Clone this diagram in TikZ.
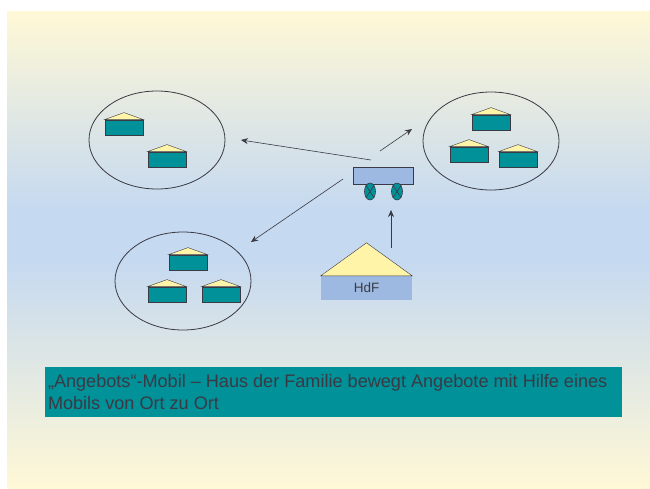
\documentclass[tikz,border=0pt]{standalone}
\usepackage{fontspec}
\setmainfont{Liberation Sans}
\usetikzlibrary{shapes.geometric}
\usetikzlibrary{arrows.meta}
\tikzset{>=Stealth}
\definecolor{teal}{HTML}{009199}
\definecolor{cream}{HTML}{FFF8D6}
\definecolor{skyblue}{HTML}{C5D9F0}
\definecolor{roof}{HTML}{FFF4A8}
\definecolor{periwinkle}{HTML}{9DB9E1}
\definecolor{ink}{HTML}{3A3A44}
\tikzset{
  area/.style={draw=ink,thick,ellipse,minimum width=136pt,minimum height=98pt,inner sep=0pt},
  hbody/.style={draw=ink,thick,fill=teal,minimum width=38pt,minimum height=15pt,inner sep=0pt},
  hroof/.style={draw=ink,thin,fill=roof},
  wheel/.style={draw=ink,semithick,fill=teal,ellipse,minimum width=11pt,minimum height=17pt,inner sep=0pt},
  arrow/.style={->,draw=ink,semithick,>={Stealth[length=7pt,width=6pt]}},
}
\begin{document}
\begin{tikzpicture}[x=1pt,y=-1pt]
\useasboundingbox (0,0) rectangle (650,488);
% background
\shade[top color=cream,bottom color=skyblue] (7,11) rectangle (650,210);
\fill[skyblue] (7,210) rectangle (650,260);
\shade[top color=skyblue,bottom color=cream] (7,260) rectangle (650,488);
% areas
\node[area] (left) at (157,140) {};
\node[area] (right) at (491,141) {};
\node[area] (below) at (183,281) {};
% small houses
\foreach \nam/\hx/\hy in {h1/124/127.5,h2/167/159.5,h3/491/122.5,h4/469/154.5,h5/518/159.5,h6/188/262.5,h7/167/294.5,h8/221/294.5}{
  \node[hbody] (\nam) at (\hx,\hy) {};
  \draw[hroof] (\nam.north west) -- ([yshift=7pt]\nam.north) -- (\nam.north east) -- cycle;
}
% mobil
\node[draw=ink,thick,fill=periwinkle,minimum width=60pt,minimum height=17pt,inner sep=0pt] (cart) at (383,175.5) {};
\node[wheel] (w1) at (370,191.5) {};
\node[wheel] (w2) at (397,191.5) {};
\draw[ink,semithick] (w1.north west) -- (w1.south east);
\draw[ink,semithick] (w1.north east) -- (w1.south west);
\draw[ink,semithick] (w2.north west) -- (w2.south east);
\draw[ink,semithick] (w2.north east) -- (w2.south west);
% HdF
\node[fill=periwinkle,minimum width=91pt,minimum height=24pt,inner sep=0pt,text=ink,font=\fontsize{13.5pt}{15pt}\selectfont] (hdf) at (366.5,288) {HdF};
\draw[hroof] (hdf.north west) -- ([yshift=33pt]hdf.north) -- (hdf.north east) -- cycle;
% arrows
\coordinate (a1) at (371,160);
\coordinate (b1) at (241,140);
\coordinate (a2) at (380,151);
\coordinate (b2) at (412,129);
\coordinate (a3) at (343,179);
\coordinate (b3) at (251,242);
\coordinate (a4) at (391,248);
\coordinate (b4) at (391,210);
\draw[arrow] (a1) -- (b1);
\draw[arrow] (a2) -- (b2);
\draw[arrow] (a3) -- (b3);
\draw[arrow] (a4) -- (b4);
% caption
\node[fill=teal,text=ink,minimum height=50pt,inner xsep=3pt,inner ysep=0pt,text width=571pt,align=flush left,font=\fontsize{18.1pt}{21.5pt}\selectfont] (caption) at (333.5,392) {„Angebots“-Mobil – Haus der Familie bewegt Angebote mit Hilfe eines\\Mobils von Ort zu Ort};
\end{tikzpicture}
\end{document}
